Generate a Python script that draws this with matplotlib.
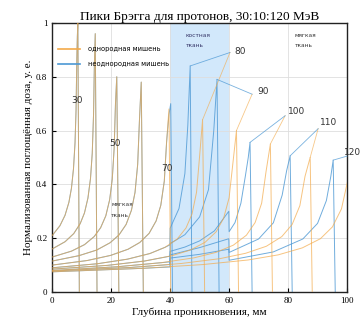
import matplotlib
matplotlib.use("Agg")
import matplotlib.pyplot as plt
import numpy as np
from matplotlib.lines import Line2D

# ---------------- data ----------------
energies = [30, 40, 50, 60, 70, 80, 90, 100, 110, 120]

# homogeneous target (water)
homo_depth = {
    30: [0, 2.61, 4.35, 5.66, 6.53, 7.22, 7.74, 8.09, 8.35, 8.53, 8.7, 9.2],
    40: [0, 4.38, 7.3, 9.49, 10.95, 12.12, 12.99, 13.58, 14.02, 14.31, 14.6, 15.2],
    50: [0, 6.57, 10.95, 14.24, 16.43, 18.18, 19.49, 20.37, 21.02, 21.46, 21.9, 22.6],
    60: [0, 9.06, 15.1, 19.63, 22.65, 25.07, 26.88, 28.09, 28.99, 29.6, 30.2, 30.9],
    70: [0, 11.88, 19.8, 25.74, 29.7, 32.87, 35.24, 36.83, 38.02, 38.81, 39.6, 40.2],
    80: [0, 15.3, 25.5, 33.15, 38.25, 42.33, 45.39, 47.43, 48.96, 49.98, 51.0, 51.7],
    90: [0, 18.75, 31.25, 40.63, 46.88, 51.88, 55.63, 58.13, 60.0, 61.25, 62.5, 63.2],
    100: [0, 22.2, 37.0, 48.1, 55.5, 61.42, 65.86, 68.82, 71.04, 72.52, 74.0, 74.7],
    110: [0, 26.25, 43.75, 56.88, 65.63, 72.63, 77.88, 81.38, 84.0, 85.75, 87.5, 88.2],
    120: [0, 30.66, 51.1, 66.43, 76.65, 84.83, 90.96, 95.05, 98.11, 100.16, 102.2, 102.9],
}
homo_dose = {
    30: [.21, .246, .285, .333, .386, .458, .554, .676, .865, .95, 1.0, 0],
    40: [.16, .187, .217, .254, .294, .349, .422, .515, .659, .85, .96, 0],
    50: [.13, .152, .176, .206, .239, .283, .343, .419, .536, .70, .80, 0],
    60: [.115, .135, .156, .183, .212, .251, .304, .370, .474, .64, .78, 0],
    70: [.10, .117, .136, .159, .184, .218, .264, .322, .412, .559, .68, 0],
    80: [.09, .105, .122, .143, .166, .196, .238, .290, .371, .503, .64, 0],
    90: [.085, .099, .115, .135, .156, .185, .224, .274, .350, .475, .60, 0],
    100: [.08, .094, .109, .127, .147, .174, .211, .258, .330, .447, .55, 0],
    110: [.078, .091, .106, .124, .144, .170, .206, .251, .321, .43, .50, 0],
    120: [.075, .088, .102, .119, .138, .164, .198, .242, .309, .41, .47, 0],
}

# heterogeneous target (bone slab 40-60 mm)
hetero_depth = {
    30: homo_depth[30], 40: homo_depth[40], 50: homo_depth[50], 60: homo_depth[60],
    70: [0, 11.88, 19.8, 25.74, 29.7, 32.87, 35.24, 36.83, 38.02, 38.81, 39.6, 40.2, 40.8],
    80: [0, 15.3, 25.5, 33.15, 38.25, 39.9, 40.0, 43.0, 45.0, 46.0, 46.8, 47.4],
    90: [0, 18.75, 31.25, 39.9, 40.0, 45, 50, 53, 54.8, 55.9, 56.6],
    100: [0, 22.2, 37.0, 39.9, 40.0, 45, 50, 55, 59.9, 60.0, 62, 64, 65.5, 66.5, 67.1, 67.8],
    110: [0, 26.25, 39.9, 40.0, 50, 59.9, 60.0, 70, 75, 78, 79.5, 80.7, 81.4],
    120: [0, 30.66, 39.9, 40.0, 50, 59.9, 60.0, 75, 85, 90, 93, 94.5, 95.3, 96.0],
}
hetero_dose = {
    30: homo_dose[30], 40: homo_dose[40], 50: homo_dose[50], 60: homo_dose[60],
    70: [.10, .117, .136, .159, .184, .218, .264, .322, .412, .559, .66, .70, 0],
    80: [.09, .105, .122, .143, .166, .175, .237, .31, .44, .62, .84, 0],
    90: [.085, .099, .115, .133, .18, .213, .279, .38, .60, .79, 0],
    100: [.08, .094, .109, .112, .151, .167, .19, .227, .30, .224, .258, .33, .43, .50, .556, 0],
    110: [.078, .091, .102, .138, .165, .198, .147, .197, .257, .36, .45, .506, 0],
    120: [.075, .088, .093, .126, .14, .159, .118, .149, .197, .255, .34, .43, .49, 0],
}

# energy labels: text position and leader-line start
label_energy = [30, 50, 70, 80, 90, 100, 110, 120]
label_x = [8.5, 21.4, 38.9, 63.7, 71.6, 82.9, 93.8, 101.8]
label_y = [0.71, 0.55, 0.46, 0.895, 0.745, 0.67, 0.63, 0.52]
leader_energy = [80, 90, 100, 110, 120]
leader_x = [60.3, 67.8, 79.0, 90.2, 100.0]
leader_y = [0.89, 0.735, 0.655, 0.607, 0.505]

bone_span = (40, 60)
legend_labels = ["однородная мишень", "неоднородная мишень"]

# ---------------- style ----------------
orange = "#f3aa4a"
blue = "#4c98d4"
serif = "Liberation Serif"

fig = plt.figure(figsize=(3.6, 3.27), dpi=100)
ax = fig.add_axes([0.145, 0.107, 0.819, 0.823])

ax.axvspan(*bone_span, color="#d2e8fb", zorder=0, lw=0)
ax.grid(True, color="#dedede", lw=0.6, zorder=0.5)

for e in energies:
    ax.plot(hetero_depth[e], hetero_dose[e], color=blue, lw=0.7, alpha=0.8, zorder=2)
for e in energies:
    ax.plot(homo_depth[e], homo_dose[e], color=orange, lw=0.7, alpha=0.7, zorder=3)

# leader lines to peaks
for e, lx, ly in zip(leader_energy, leader_x, leader_y):
    hd = np.array(hetero_depth[e]); hv = np.array(hetero_dose[e])
    i = int(np.argmax(hv))
    ax.plot([lx, hd[i]], [ly, hv[i]], color=blue, lw=0.6, alpha=0.75, zorder=3, clip_on=False)
    od = np.array(homo_depth[e]); ov = np.array(homo_dose[e])
    j = int(np.argmax(ov))
    if od[j] <= 100:
        ax.plot([lx, od[j]], [ly, ov[j]], color=orange, lw=0.6, alpha=0.65, zorder=2, clip_on=False)

for e, tx, ty in zip(label_energy, label_x, label_y):
    ax.text(tx, ty, str(e), fontsize=6.5, family="DejaVu Sans", color="#333333",
            ha="center", va="center", zorder=5, clip_on=False)

ax.text(45.2, 0.955, "костная", fontsize=4.2, color="#333366", family="DejaVu Sans", va="center")
ax.text(45.2, 0.915, "ткань", fontsize=4.2, color="#333366", family="DejaVu Sans", va="center")
ax.text(82.3, 0.955, "мягкая", fontsize=4.2, color="#333333", family="DejaVu Sans", va="center")
ax.text(82.3, 0.915, "ткань", fontsize=4.2, color="#333333", family="DejaVu Sans", va="center")
ax.text(20.0, 0.325, "мягкая", fontsize=4.2, color="#333333", family="DejaVu Sans", va="center")
ax.text(20.0, 0.285, "ткань", fontsize=4.2, color="#333333", family="DejaVu Sans", va="center")

handles = [Line2D([], [], color=orange, lw=1.2), Line2D([], [], color=blue, lw=1.2)]
ax.legend(handles, legend_labels, loc="upper left", bbox_to_anchor=(0.0, 0.935),
          frameon=False, handlelength=3.2, handletextpad=1.2,
          labelspacing=1.3, prop={"family": "DejaVu Sans", "size": 4.8})

ax.set_xlim(0, 100)
ax.set_ylim(0, 1)
ax.set_xticks([0, 20, 40, 60, 80, 100])
ax.set_yticks([0, 0.2, 0.4, 0.6, 0.8, 1])
ax.set_yticklabels(["0", "0.2", "0.4", "0.6", "0.8", "1"])
ax.tick_params(direction="in", length=3, width=0.8, labelsize=6.5, top=False, right=False)
for lab in ax.get_xticklabels() + ax.get_yticklabels():
    lab.set_family(serif)
for s in ax.spines.values():
    s.set_linewidth(1.0)
    s.set_color("#222222")

ax.set_title("Пики Брэгга для протонов, 30:10:120 МэВ", family=serif, fontsize=9.5, pad=2)
ax.set_xlabel("Глубина проникновения, мм", family=serif, fontsize=8, labelpad=2)
ax.set_ylabel("Нормализованная поглощённая доза, у. е.", family=serif, fontsize=8, labelpad=2)

fig.savefig("out.png", dpi=100)
